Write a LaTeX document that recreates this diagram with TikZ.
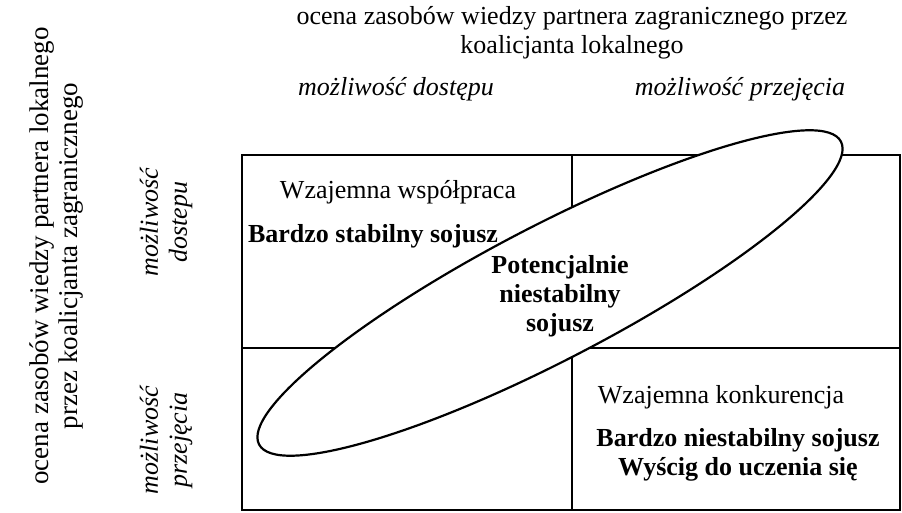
\documentclass[tikz,border=0pt]{standalone}
\usepackage{fontspec}
\setmainfont{Liberation Serif}
\begin{document}
\begin{tikzpicture}[x=1pt,y=1pt,
  lbl/.style={font=\fontsize{26}{29}\selectfont, align=center, inner sep=0pt},
  lbli/.style={lbl, font=\fontsize{26}{29}\selectfont\itshape},
  lblb/.style={lbl, font=\fontsize{26}{29}\selectfont\bfseries},
  frame/.style={line width=2pt}]
\useasboundingbox (0,0) rectangle (902,512);
% titles
\node[lbl] (title) at (572,479) {ocena zasobów wiedzy partnera zagranicznego przez\\koalicjanta lokalnego};
\node[lbli] (topA) at (396,423) {możliwość dostępu};
\node[lbli] (topB) at (740,423) {możliwość przejęcia};
\node[lbl, rotate=90, font=\fontsize{27}{29}\selectfont] (left) at (57,256) {ocena zasobów wiedzy partnera lokalnego\\przez koalicjanta zagranicznego};
\node[lbli, rotate=90] (leftA) at (166,290) {możliwość\\dostepu};
\node[lbli, rotate=90] (leftB) at (166,72) {możliwość\\przejęcia};
% grid
\coordinate (bl) at (242,2);
\coordinate (tr) at (900,357);
\draw[frame] (bl) rectangle (tr);
\coordinate (vt) at (572,357);
\coordinate (vb) at (572,2);
\coordinate (hl) at (242,164);
\coordinate (hr) at (900,164);
\draw[frame] (vt) -- (vb);
\draw[frame] (hl) -- (hr);
% ellipse
\draw[line width=2.2pt, fill=white, rotate around={27.5:(550,219)}] (550,219) ellipse [x radius=328, y radius=67];
% texts
\node[lbl] (q1a) at (398,320) {Wzajemna współpraca};
\node[lblb] (q1b) at (373,276) {Bardzo stabilny sojusz};
\node[lblb] (mid) at (560,216) {Potencjalnie\\niestabilny\\sojusz};
\node[lbl] (q4a) at (721,115) {Wzajemna konkurencja};
\node[lblb] (q4b) at (738,57) {Bardzo niestabilny sojusz\\Wyścig do uczenia się};
\end{tikzpicture}
\end{document}
